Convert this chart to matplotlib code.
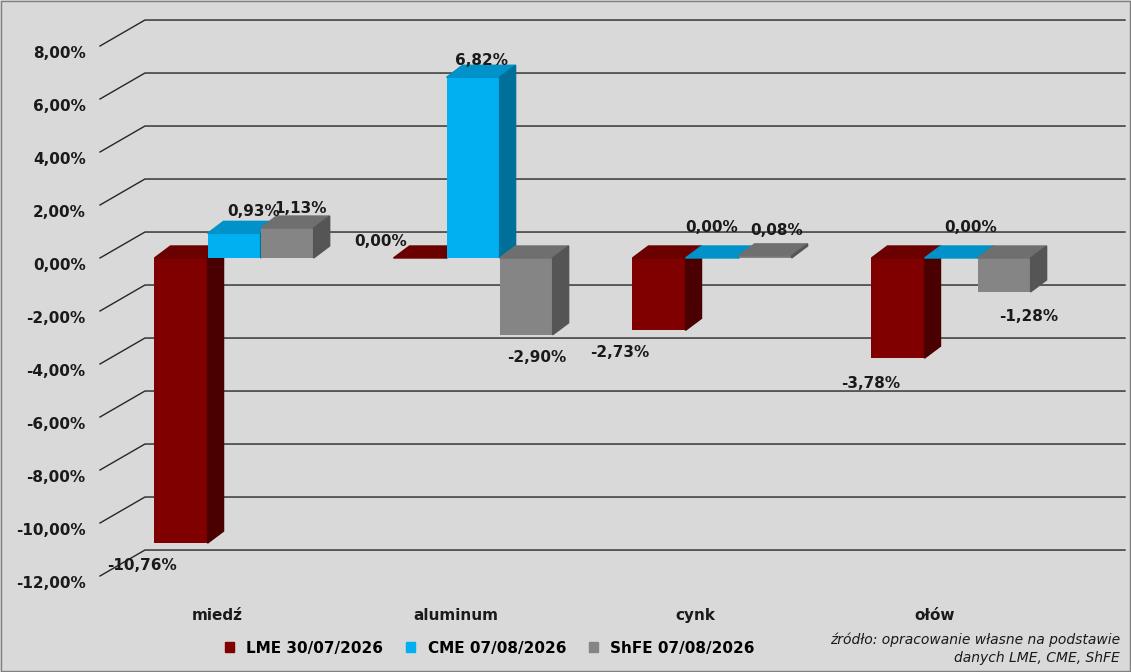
import matplotlib.pyplot as plt
from matplotlib.patches import Polygon, Patch

categories = ['miedź', 'aluminum', 'cynk', 'ołów']
series = ['LME 30/07/2026', 'CME 07/08/2026', 'ShFE 07/08/2026']
lme = [-10.76, 0.00, -2.73, -3.78]
cme = [0.93, 6.82, 0.00, 0.00]
shfe = [1.13, -2.90, 0.08, -1.28]
yticks = [8, 6, 4, 2, 0, -2, -4, -6, -8, -10, -12]

front = ['#800000', '#00b0f0', '#858585']
top = ['#6a0000', '#0092c8', '#6f6f6f']
side = ['#4a0000', '#00709a', '#555555']

# label offsets in points (dx, dy) per series / category
offs = [[(-28, -16), (-28, 12), (-28, -16), (-20, -18)],
        [(14, 16), (6, 12), (0, 22), (14, 22)],
        [(10, 14), (8, -16), (8, 18), (18, -18)]]

W, H = 1131, 672
fig = plt.figure(figsize=(W / 100, H / 100), dpi=100)
fig.patch.set_facecolor('#d9d9d9')
fig.add_artist(plt.Rectangle((0.001, 0.001), 0.998, 0.997, transform=fig.transFigure,
                             fill=False, edgecolor='#7f7f7f', lw=1))

y0, y1 = -13.0, 9.7
ax_bot = (H - (258 + 13.0 * 26.5)) / H
ax_h = (26.5 * (y1 - y0)) / H
ax = fig.add_axes([100 / W, ax_bot, 1025 / W, ax_h])
ax.set_facecolor('none')
x0l, x1l = -0.561, 3.728
ax.set_xlim(x0l, x1l)
ax.set_ylim(y0, y1)
ax.axis('off')

wdx, wdy = 0.188, 0.98
for v in yticks + [10]:
    ax.plot([x0l, x0l + wdx, x1l], [v, v + wdy, v + wdy], color='#262626', lw=1, clip_on=False)
    if v != 10:
        ax.text(x0l - 0.06, v - 0.3, f'{v:.2f}%'.replace('.', ','), ha='right', va='center',
                fontsize=11, fontweight='bold', color='#1a1a1a')

bw, bdx, bdy = 0.222, 0.067, 0.453
data = [lme, cme, shfe]
for i in range(len(categories)):
    for s in range(3):
        v = data[s][i]
        xa = i - 1.5 * bw + s * bw
        xb = xa + bw
        t, b = max(v, 0), min(v, 0)
        ax.bar(xa, v, width=bw, align='edge', color=front[s], zorder=3 + s * 3)
        ax.add_patch(Polygon([(xa, t), (xb, t), (xb + bdx, t + bdy), (xa + bdx, t + bdy)],
                             color=top[s], zorder=4 + s * 3))
        ax.add_patch(Polygon([(xb, b), (xb, t), (xb + bdx, t + bdy), (xb + bdx, b + bdy)],
                             color=side[s], zorder=4 + s * 3))
        dx, dy = offs[s][i]
        ax.annotate(f'{v:.2f}%'.replace('.', ','), (xa + bw / 2, v), xytext=(dx, dy),
                    textcoords='offset points', ha='center', va='center', fontsize=11,
                    fontweight='bold', color='#1a1a1a', zorder=20)
    ax.text(i - 0.07, -13.2, categories[i], ha='center', va='top', fontsize=11,
            fontweight='bold', color='#1a1a1a')

handles = [Patch(color=front[s], label=series[s]) for s in range(3)]
fig.legend(handles=handles, loc='center', bbox_to_anchor=(490 / W, 1 - 648 / H), ncol=3,
           frameon=False, handlelength=0.6, handleheight=0.6, columnspacing=1.5,
           prop={'weight': 'bold', 'size': 11})
fig.text(1120 / W, 1 - 640 / H, 'źródło: opracowanie własne na podstawie', ha='right',
         va='center', fontsize=10, style='italic', color='#1a1a1a')
fig.text(1120 / W, 1 - 658 / H, 'danych LME, CME, ShFE', ha='right', va='center',
         fontsize=10, style='italic', color='#1a1a1a')

fig.savefig('out.png', dpi=100, facecolor=fig.get_facecolor())
